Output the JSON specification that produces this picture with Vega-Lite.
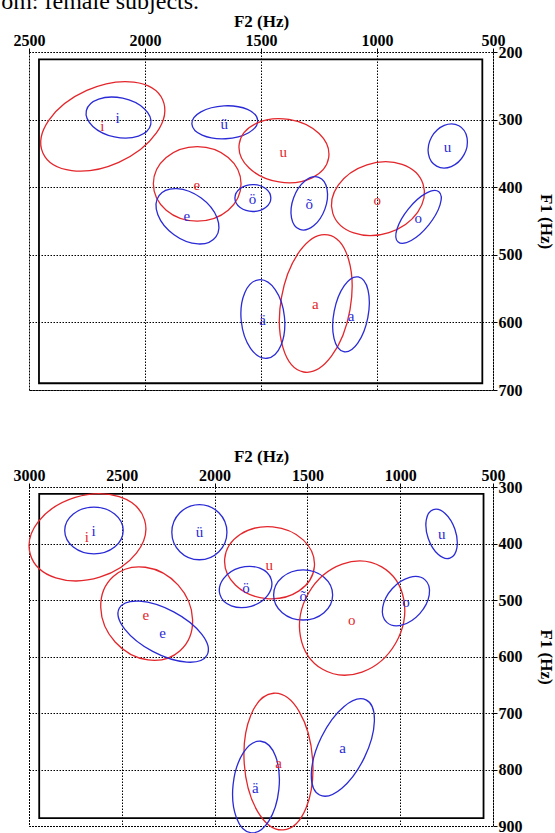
{
  "$schema": "https://vega.github.io/schema/vega-lite/v6.json",
  "background": "white",
  "padding": {"top": -11, "left": 0, "right": 0, "bottom": 0},
  "spacing": 47,
  "config": {
    "font": "Liberation Serif",
    "view": {"stroke": "black", "strokeDash": [1.5, 1.5], "strokeWidth": 1},
    "axis": {
      "labelFont": "Liberation Serif", "labelFontSize": 16, "labelFontWeight": "bold", "labelColor": "black",
      "titleFont": "Liberation Serif", "titleFontSize": 17, "titleFontWeight": "bold", "titleColor": "black",
      "gridColor": "black", "gridDash": [1.5, 1.5], "gridOpacity": 1, "gridWidth": 1,
      "tickColor": "black", "tickWidth": 1, "tickSize": 4, "domain": false
    }
  },
  "datasets": {
    "frames": [
      {"panel": "top", "x1": 2457, "x2": 546, "y1": 211, "y2": 690},
      {"panel": "bottom", "x1": 2945, "x2": 551, "y1": 312, "y2": 886}
    ],
    "vowels": [
      {"panel": "top", "speakers": "group 1", "vowel": "i", "f2": 2182, "f1": 310, "lf2": 2184, "lf1": 310, "major": 565, "ratio": 0.6, "angle": 336},
      {"panel": "top", "speakers": "group 2", "vowel": "i", "f2": 2114, "f1": 297, "lf2": 2118, "lf1": 298, "major": 284, "ratio": 0.6, "angle": 12},
      {"panel": "top", "speakers": "group 2", "vowel": "ü", "f2": 1656, "f1": 304, "lf2": 1658, "lf1": 306, "major": 284, "ratio": 0.5, "angle": 357},
      {"panel": "top", "speakers": "group 1", "vowel": "e", "f2": 1775, "f1": 395, "lf2": 1777, "lf1": 397, "major": 378, "ratio": 0.85, "angle": 0},
      {"panel": "top", "speakers": "group 2", "vowel": "e", "f2": 1817, "f1": 443, "lf2": 1820, "lf1": 443, "major": 303, "ratio": 0.65, "angle": 36},
      {"panel": "top", "speakers": "group 2", "vowel": "ö", "f2": 1535, "f1": 416, "lf2": 1537, "lf1": 417, "major": 155, "ratio": 0.75, "angle": 0},
      {"panel": "top", "speakers": "group 1", "vowel": "u", "f2": 1401, "f1": 346, "lf2": 1404, "lf1": 348, "major": 390, "ratio": 0.7, "angle": 9},
      {"panel": "top", "speakers": "group 2", "vowel": "õ", "f2": 1292, "f1": 424, "lf2": 1292, "lf1": 425, "major": 239, "ratio": 0.6, "angle": 290},
      {"panel": "top", "speakers": "group 1", "vowel": "o", "f2": 996, "f1": 417, "lf2": 999, "lf1": 419, "major": 409, "ratio": 0.75, "angle": 342},
      {"panel": "top", "speakers": "group 2", "vowel": "o", "f2": 821, "f1": 444, "lf2": 822, "lf1": 446, "major": 279, "ratio": 0.4, "angle": 309},
      {"panel": "top", "speakers": "group 2", "vowel": "u", "f2": 695, "f1": 339, "lf2": 696, "lf1": 340, "major": 199, "ratio": 0.8, "angle": 299},
      {"panel": "top", "speakers": "group 1", "vowel": "a", "f2": 1264, "f1": 572, "lf2": 1266, "lf1": 573, "major": 600, "ratio": 0.5, "angle": 280},
      {"panel": "top", "speakers": "group 2", "vowel": "ä", "f2": 1492, "f1": 595, "lf2": 1493, "lf1": 596, "major": 340, "ratio": 0.55, "angle": 84},
      {"panel": "top", "speakers": "group 2", "vowel": "a", "f2": 1112, "f1": 588, "lf2": 1112, "lf1": 590, "major": 328, "ratio": 0.45, "angle": 281},
      {"panel": "bottom", "speakers": "group 1", "vowel": "i", "f2": 2685, "f1": 389, "lf2": 2688, "lf1": 389, "major": 643, "ratio": 0.7, "angle": 343},
      {"panel": "bottom", "speakers": "group 2", "vowel": "i", "f2": 2650, "f1": 377, "lf2": 2652, "lf1": 377, "major": 315, "ratio": 0.8, "angle": 0},
      {"panel": "bottom", "speakers": "group 2", "vowel": "ü", "f2": 2082, "f1": 380, "lf2": 2082, "lf1": 380, "major": 297, "ratio": 1, "angle": 0},
      {"panel": "bottom", "speakers": "group 1", "vowel": "e", "f2": 2366, "f1": 524, "lf2": 2370, "lf1": 527, "major": 538, "ratio": 0.85, "angle": 48},
      {"panel": "bottom", "speakers": "group 2", "vowel": "e", "f2": 2277, "f1": 556, "lf2": 2280, "lf1": 559, "major": 536, "ratio": 0.45, "angle": 28},
      {"panel": "bottom", "speakers": "group 1", "vowel": "u", "f2": 1704, "f1": 434, "lf2": 1705, "lf1": 438, "major": 485, "ratio": 0.8, "angle": 5},
      {"panel": "bottom", "speakers": "group 2", "vowel": "ö", "f2": 1833, "f1": 477, "lf2": 1831, "lf1": 478, "major": 288, "ratio": 0.75, "angle": 344},
      {"panel": "bottom", "speakers": "group 2", "vowel": "õ", "f2": 1523, "f1": 491, "lf2": 1522, "lf1": 493, "major": 318, "ratio": 0.85, "angle": 0},
      {"panel": "bottom", "speakers": "group 1", "vowel": "o", "f2": 1259, "f1": 532, "lf2": 1261, "lf1": 535, "major": 637, "ratio": 0.85, "angle": 300},
      {"panel": "bottom", "speakers": "group 2", "vowel": "o", "f2": 969, "f1": 502, "lf2": 969, "lf1": 504, "major": 308, "ratio": 0.65, "angle": 312},
      {"panel": "bottom", "speakers": "group 2", "vowel": "u", "f2": 777, "f1": 383, "lf2": 776, "lf1": 384, "major": 276, "ratio": 0.55, "angle": 71},
      {"panel": "bottom", "speakers": "group 1", "vowel": "a", "f2": 1656, "f1": 786, "lf2": 1655, "lf1": 789, "major": 738, "ratio": 0.5, "angle": 86},
      {"panel": "bottom", "speakers": "group 2", "vowel": "ä", "f2": 1777, "f1": 831, "lf2": 1781, "lf1": 833, "major": 496, "ratio": 0.5, "angle": 276},
      {"panel": "bottom", "speakers": "group 2", "vowel": "a", "f2": 1309, "f1": 761, "lf2": 1310, "lf1": 762, "major": 570, "ratio": 0.45, "angle": 296}
    ]
  },
  "resolve": {"scale": {"x": "independent", "y": "independent", "size": "independent", "color": "independent", "shape": "independent"}},
  "vconcat": [
    {
      "width": 464,
      "height": 338,
      "layer": [
        {
          "data": {"values": [{"caption": "om: female subjects."}]},
          "mark": {"type": "text", "align": "left", "baseline": "alphabetic", "fontSize": 24, "font": "Liberation Serif", "color": "black"},
          "encoding": {
            "text": {"field": "caption"},
            "x": {"datum": 2620, "type": "quantitative", "scale": {"domain": [500, 2500], "reverse": true, "nice": false, "zero": false},
              "axis": {"orient": "top", "title": "F2 (Hz)", "values": [2500, 2000, 1500, 1000, 500], "format": "d", "labelFlush": false, "labelOverlap": false, "grid": true, "labelPadding": 0, "titlePadding": 2}},
            "y": {"datum": 136, "type": "quantitative", "scale": {"domain": [200, 700], "reverse": true, "nice": false, "zero": false},
              "axis": {"orient": "right", "title": "F1 (Hz)", "values": [200, 300, 400, 500, 600, 700], "format": "d", "labelFlush": false, "labelOverlap": false, "grid": true, "labelPadding": 1, "labelAlign": "left", "titlePadding": 14}}
          }
        },
        {
          "data": {"name": "frames"},
          "transform": [{"filter": "datum.panel === 'top'"}],
          "mark": {"type": "rect", "filled": false, "color": "black", "strokeWidth": 1.8},
          "encoding": {
            "x": {"field": "x1", "type": "quantitative", "scale": {"domain": [500, 2500], "reverse": true, "nice": false, "zero": false},
              "axis": {"orient": "top", "title": "F2 (Hz)", "values": [2500, 2000, 1500, 1000, 500], "format": "d", "labelFlush": false, "labelOverlap": false, "grid": true, "labelPadding": 0, "titlePadding": 2}},
            "x2": {"field": "x2"},
            "y": {"field": "y1", "type": "quantitative", "scale": {"domain": [200, 700], "reverse": true, "nice": false, "zero": false},
              "axis": {"orient": "right", "title": "F1 (Hz)", "values": [200, 300, 400, 500, 600, 700], "format": "d", "labelFlush": false, "labelOverlap": false, "grid": true, "labelPadding": 1, "labelAlign": "left", "titlePadding": 14}},
            "y2": {"field": "y2"}
          }
        },
        {
          "data": {"name": "vowels"},
          "transform": [{"filter": "datum.panel === 'top'"}],
          "mark": {"type": "point", "filled": false, "strokeWidth": 1.3, "opacity": 1},
          "encoding": {
            "x": {"field": "f2", "type": "quantitative", "scale": {"domain": [500, 2500], "reverse": true, "nice": false, "zero": false},
              "axis": {"orient": "top", "title": "F2 (Hz)", "values": [2500, 2000, 1500, 1000, 500], "format": "d", "labelFlush": false, "labelOverlap": false, "grid": true, "labelPadding": 0, "titlePadding": 2}},
            "y": {"field": "f1", "type": "quantitative", "scale": {"domain": [200, 700], "reverse": true, "nice": false, "zero": false},
              "axis": {"orient": "right", "title": "F1 (Hz)", "values": [200, 300, 400, 500, 600, 700], "format": "d", "labelFlush": false, "labelOverlap": false, "grid": true, "labelPadding": 1, "labelAlign": "left", "titlePadding": 14}},
            "size": {"field": "major", "type": "quantitative", "scale": {"type": "pow", "exponent": 2, "domain": [0, 2000], "range": [0, 215296]}, "legend": null},
            "shape": {"field": "ratio", "type": "nominal", "legend": null, "scale": {
              "domain": [0.4, 0.45, 0.5, 0.55, 0.6, 0.65, 0.7, 0.75, 0.8, 0.85, 1],
              "range": ["M-1,0A1,0.4,0,0,1,1,0A1,0.4,0,0,1,-1,0Z", "M-1,0A1,0.45,0,0,1,1,0A1,0.45,0,0,1,-1,0Z", "M-1,0A1,0.5,0,0,1,1,0A1,0.5,0,0,1,-1,0Z", "M-1,0A1,0.55,0,0,1,1,0A1,0.55,0,0,1,-1,0Z", "M-1,0A1,0.6,0,0,1,1,0A1,0.6,0,0,1,-1,0Z", "M-1,0A1,0.65,0,0,1,1,0A1,0.65,0,0,1,-1,0Z", "M-1,0A1,0.7,0,0,1,1,0A1,0.7,0,0,1,-1,0Z", "M-1,0A1,0.75,0,0,1,1,0A1,0.75,0,0,1,-1,0Z", "M-1,0A1,0.8,0,0,1,1,0A1,0.8,0,0,1,-1,0Z", "M-1,0A1,0.85,0,0,1,1,0A1,0.85,0,0,1,-1,0Z", "M-1,0A1,1,0,0,1,1,0A1,1,0,0,1,-1,0Z"]}},
            "angle": {"field": "angle", "type": "quantitative", "scale": null},
            "color": {"field": "speakers", "type": "nominal", "scale": {"domain": ["group 1", "group 2"], "range": ["#e3262b", "#2a2ad6"]}, "legend": null}
          }
        },
        {
          "data": {"name": "vowels"},
          "transform": [{"filter": "datum.panel === 'top'"}],
          "mark": {"type": "text", "font": "Liberation Serif", "fontSize": 15, "align": "center", "baseline": "middle"},
          "encoding": {
            "x": {"field": "lf2", "type": "quantitative", "scale": {"domain": [500, 2500], "reverse": true, "nice": false, "zero": false},
              "axis": {"orient": "top", "title": "F2 (Hz)", "values": [2500, 2000, 1500, 1000, 500], "format": "d", "labelFlush": false, "labelOverlap": false, "grid": true, "labelPadding": 0, "titlePadding": 2}},
            "y": {"field": "lf1", "type": "quantitative", "scale": {"domain": [200, 700], "reverse": true, "nice": false, "zero": false},
              "axis": {"orient": "right", "title": "F1 (Hz)", "values": [200, 300, 400, 500, 600, 700], "format": "d", "labelFlush": false, "labelOverlap": false, "grid": true, "labelPadding": 1, "labelAlign": "left", "titlePadding": 14}},
            "text": {"field": "vowel"},
            "color": {"field": "speakers", "type": "nominal", "scale": {"domain": ["group 1", "group 2"], "range": ["#e3262b", "#2a2ad6"]}, "legend": null}
          }
        }
      ]
    },
    {
      "width": 464,
      "height": 339,
      "layer": [
        {
          "data": {"name": "frames"},
          "transform": [{"filter": "datum.panel === 'bottom'"}],
          "mark": {"type": "rect", "filled": false, "color": "black", "strokeWidth": 1.8},
          "encoding": {
            "x": {"field": "x1", "type": "quantitative", "scale": {"domain": [500, 3000], "reverse": true, "nice": false, "zero": false},
              "axis": {"orient": "top", "title": "F2 (Hz)", "values": [3000, 2500, 2000, 1500, 1000, 500], "format": "d", "labelFlush": false, "labelOverlap": false, "grid": true, "labelPadding": 0, "titlePadding": 2}},
            "x2": {"field": "x2"},
            "y": {"field": "y1", "type": "quantitative", "scale": {"domain": [300, 900], "reverse": true, "nice": false, "zero": false},
              "axis": {"orient": "right", "title": "F1 (Hz)", "values": [300, 400, 500, 600, 700, 800, 900], "format": "d", "labelFlush": false, "labelOverlap": false, "grid": true, "labelPadding": 1, "labelAlign": "left", "titlePadding": 14}},
            "y2": {"field": "y2"}
          }
        },
        {
          "data": {"name": "vowels"},
          "transform": [{"filter": "datum.panel === 'bottom'"}],
          "mark": {"type": "point", "filled": false, "strokeWidth": 1.3, "opacity": 1},
          "encoding": {
            "x": {"field": "f2", "type": "quantitative", "scale": {"domain": [500, 3000], "reverse": true, "nice": false, "zero": false},
              "axis": {"orient": "top", "title": "F2 (Hz)", "values": [3000, 2500, 2000, 1500, 1000, 500], "format": "d", "labelFlush": false, "labelOverlap": false, "grid": true, "labelPadding": 0, "titlePadding": 2}},
            "y": {"field": "f1", "type": "quantitative", "scale": {"domain": [300, 900], "reverse": true, "nice": false, "zero": false},
              "axis": {"orient": "right", "title": "F1 (Hz)", "values": [300, 400, 500, 600, 700, 800, 900], "format": "d", "labelFlush": false, "labelOverlap": false, "grid": true, "labelPadding": 1, "labelAlign": "left", "titlePadding": 14}},
            "size": {"field": "major", "type": "quantitative", "scale": {"type": "pow", "exponent": 2, "domain": [0, 2500], "range": [0, 215296]}, "legend": null},
            "shape": {"field": "ratio", "type": "nominal", "legend": null, "scale": {
              "domain": [0.4, 0.45, 0.5, 0.55, 0.6, 0.65, 0.7, 0.75, 0.8, 0.85, 1],
              "range": ["M-1,0A1,0.4,0,0,1,1,0A1,0.4,0,0,1,-1,0Z", "M-1,0A1,0.45,0,0,1,1,0A1,0.45,0,0,1,-1,0Z", "M-1,0A1,0.5,0,0,1,1,0A1,0.5,0,0,1,-1,0Z", "M-1,0A1,0.55,0,0,1,1,0A1,0.55,0,0,1,-1,0Z", "M-1,0A1,0.6,0,0,1,1,0A1,0.6,0,0,1,-1,0Z", "M-1,0A1,0.65,0,0,1,1,0A1,0.65,0,0,1,-1,0Z", "M-1,0A1,0.7,0,0,1,1,0A1,0.7,0,0,1,-1,0Z", "M-1,0A1,0.75,0,0,1,1,0A1,0.75,0,0,1,-1,0Z", "M-1,0A1,0.8,0,0,1,1,0A1,0.8,0,0,1,-1,0Z", "M-1,0A1,0.85,0,0,1,1,0A1,0.85,0,0,1,-1,0Z", "M-1,0A1,1,0,0,1,1,0A1,1,0,0,1,-1,0Z"]}},
            "angle": {"field": "angle", "type": "quantitative", "scale": null},
            "color": {"field": "speakers", "type": "nominal", "scale": {"domain": ["group 1", "group 2"], "range": ["#e3262b", "#2a2ad6"]}, "legend": null}
          }
        },
        {
          "data": {"name": "vowels"},
          "transform": [{"filter": "datum.panel === 'bottom'"}],
          "mark": {"type": "text", "font": "Liberation Serif", "fontSize": 15, "align": "center", "baseline": "middle"},
          "encoding": {
            "x": {"field": "lf2", "type": "quantitative", "scale": {"domain": [500, 3000], "reverse": true, "nice": false, "zero": false},
              "axis": {"orient": "top", "title": "F2 (Hz)", "values": [3000, 2500, 2000, 1500, 1000, 500], "format": "d", "labelFlush": false, "labelOverlap": false, "grid": true, "labelPadding": 0, "titlePadding": 2}},
            "y": {"field": "lf1", "type": "quantitative", "scale": {"domain": [300, 900], "reverse": true, "nice": false, "zero": false},
              "axis": {"orient": "right", "title": "F1 (Hz)", "values": [300, 400, 500, 600, 700, 800, 900], "format": "d", "labelFlush": false, "labelOverlap": false, "grid": true, "labelPadding": 1, "labelAlign": "left", "titlePadding": 14}},
            "text": {"field": "vowel"},
            "color": {"field": "speakers", "type": "nominal", "scale": {"domain": ["group 1", "group 2"], "range": ["#e3262b", "#2a2ad6"]}, "legend": null}
          }
        }
      ]
    }
  ]
}
